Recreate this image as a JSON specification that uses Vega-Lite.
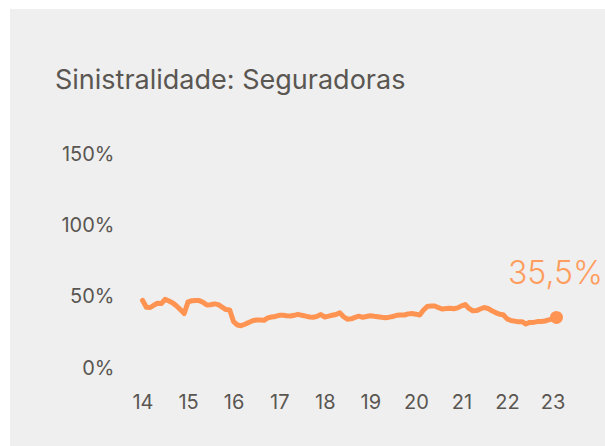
{
  "$schema": "https://vega.github.io/schema/vega-lite/v6.json",
  "width": 595,
  "height": 437,
  "autosize": {"type": "none"},
  "padding": {"left": 10, "top": 9, "right": 0, "bottom": 0},
  "background": "#ffffff",
  "title": {
    "text": "Sinistralidade: Seguradoras",
    "anchor": "start",
    "orient": "top",
    "offset": -86,
    "dx": 45,
    "font": "Inter",
    "fontSize": 27,
    "fontWeight": 400,
    "color": "#5a5652"
  },
  "config": {
    "view": {"stroke": null, "fill": "#efefef"},
    "locale": {"number": {"decimal": ",", "thousands": ".", "grouping": [3], "currency": ["R$", ""]}},
    "axis": {"labelFont": "Inter", "labelFontSize": 20, "labelColor": "#5a5652", "grid": false, "domain": false, "ticks": false, "tickSize": 0, "title": null}
  },
  "data": {"values": [
    {"date": "2014-01-01", "v": 0.475}, {"date": "2014-02-01", "v": 0.426}, {"date": "2014-03-01", "v": 0.424}, {"date": "2014-04-01", "v": 0.44},
    {"date": "2014-05-01", "v": 0.454}, {"date": "2014-06-01", "v": 0.452}, {"date": "2014-07-01", "v": 0.482}, {"date": "2014-08-01", "v": 0.47},
    {"date": "2014-09-01", "v": 0.456}, {"date": "2014-10-01", "v": 0.435}, {"date": "2014-11-01", "v": 0.41}, {"date": "2014-12-01", "v": 0.382},
    {"date": "2015-01-01", "v": 0.464}, {"date": "2015-02-01", "v": 0.472}, {"date": "2015-03-01", "v": 0.473}, {"date": "2015-04-01", "v": 0.473},
    {"date": "2015-05-01", "v": 0.461}, {"date": "2015-06-01", "v": 0.442}, {"date": "2015-07-01", "v": 0.444}, {"date": "2015-08-01", "v": 0.45},
    {"date": "2015-09-01", "v": 0.445}, {"date": "2015-10-01", "v": 0.428}, {"date": "2015-11-01", "v": 0.41}, {"date": "2015-12-01", "v": 0.407},
    {"date": "2016-01-01", "v": 0.325}, {"date": "2016-02-01", "v": 0.302}, {"date": "2016-03-01", "v": 0.297}, {"date": "2016-04-01", "v": 0.307},
    {"date": "2016-05-01", "v": 0.32}, {"date": "2016-06-01", "v": 0.332}, {"date": "2016-07-01", "v": 0.337}, {"date": "2016-08-01", "v": 0.337},
    {"date": "2016-09-01", "v": 0.335}, {"date": "2016-10-01", "v": 0.352}, {"date": "2016-11-01", "v": 0.358}, {"date": "2016-12-01", "v": 0.362},
    {"date": "2017-01-01", "v": 0.37}, {"date": "2017-02-01", "v": 0.37}, {"date": "2017-03-01", "v": 0.367}, {"date": "2017-04-01", "v": 0.365},
    {"date": "2017-05-01", "v": 0.37}, {"date": "2017-06-01", "v": 0.377}, {"date": "2017-07-01", "v": 0.37}, {"date": "2017-08-01", "v": 0.364},
    {"date": "2017-09-01", "v": 0.358}, {"date": "2017-10-01", "v": 0.356}, {"date": "2017-11-01", "v": 0.363}, {"date": "2017-12-01", "v": 0.375},
    {"date": "2018-01-01", "v": 0.358}, {"date": "2018-02-01", "v": 0.364}, {"date": "2018-03-01", "v": 0.37}, {"date": "2018-04-01", "v": 0.376},
    {"date": "2018-05-01", "v": 0.388}, {"date": "2018-06-01", "v": 0.36}, {"date": "2018-07-01", "v": 0.343}, {"date": "2018-08-01", "v": 0.345},
    {"date": "2018-09-01", "v": 0.355}, {"date": "2018-10-01", "v": 0.364}, {"date": "2018-11-01", "v": 0.356}, {"date": "2018-12-01", "v": 0.362},
    {"date": "2019-01-01", "v": 0.367}, {"date": "2019-02-01", "v": 0.363}, {"date": "2019-03-01", "v": 0.36}, {"date": "2019-04-01", "v": 0.356},
    {"date": "2019-05-01", "v": 0.353}, {"date": "2019-06-01", "v": 0.357}, {"date": "2019-07-01", "v": 0.362}, {"date": "2019-08-01", "v": 0.37},
    {"date": "2019-09-01", "v": 0.372}, {"date": "2019-10-01", "v": 0.372}, {"date": "2019-11-01", "v": 0.38}, {"date": "2019-12-01", "v": 0.382},
    {"date": "2020-01-01", "v": 0.378}, {"date": "2020-02-01", "v": 0.372}, {"date": "2020-03-01", "v": 0.405}, {"date": "2020-04-01", "v": 0.432},
    {"date": "2020-05-01", "v": 0.435}, {"date": "2020-06-01", "v": 0.435}, {"date": "2020-07-01", "v": 0.423}, {"date": "2020-08-01", "v": 0.414},
    {"date": "2020-09-01", "v": 0.417}, {"date": "2020-10-01", "v": 0.419}, {"date": "2020-11-01", "v": 0.416}, {"date": "2020-12-01", "v": 0.422},
    {"date": "2021-01-01", "v": 0.436}, {"date": "2021-02-01", "v": 0.445}, {"date": "2021-03-01", "v": 0.418}, {"date": "2021-04-01", "v": 0.402},
    {"date": "2021-05-01", "v": 0.403}, {"date": "2021-06-01", "v": 0.414}, {"date": "2021-07-01", "v": 0.425}, {"date": "2021-08-01", "v": 0.418},
    {"date": "2021-09-01", "v": 0.402}, {"date": "2021-10-01", "v": 0.389}, {"date": "2021-11-01", "v": 0.378}, {"date": "2021-12-01", "v": 0.374},
    {"date": "2022-01-01", "v": 0.345}, {"date": "2022-02-01", "v": 0.333}, {"date": "2022-03-01", "v": 0.329}, {"date": "2022-04-01", "v": 0.325},
    {"date": "2022-05-01", "v": 0.325}, {"date": "2022-06-01", "v": 0.309}, {"date": "2022-07-01", "v": 0.32}, {"date": "2022-08-01", "v": 0.32},
    {"date": "2022-09-01", "v": 0.326}, {"date": "2022-10-01", "v": 0.326}, {"date": "2022-11-01", "v": 0.33}, {"date": "2022-12-01", "v": 0.338},
    {"date": "2023-01-01", "v": 0.345}, {"date": "2023-02-01", "v": 0.355}
  ]},
  "encoding": {
    "x": {
      "field": "date",
      "type": "temporal",
      "scale": {"type": "utc", "domain": ["2011-02-04", "2024-02-25"]},
      "axis": {
        "orient": "bottom",
        "offset": -44,
        "labelPadding": 0,
        "labelBaseline": "middle",
        "format": "%y",
        "labelAlign": "center",
        "values": [
          {"year": 2014, "utc": true}, {"year": 2015, "utc": true}, {"year": 2016, "utc": true}, {"year": 2017, "utc": true}, {"year": 2018, "utc": true},
          {"year": 2019, "utc": true}, {"year": 2020, "utc": true}, {"year": 2021, "utc": true}, {"year": 2022, "utc": true}, {"year": 2023, "utc": true}
        ]
      }
    },
    "y": {
      "field": "v",
      "type": "quantitative",
      "scale": {"domain": [-0.547, 2.519], "nice": false, "zero": false},
      "axis": {"orient": "left", "offset": -104, "labelPadding": 0, "values": [0, 0.5, 1, 1.5], "format": ".0%"}
    }
  },
  "layer": [
    {"mark": {"type": "line", "color": "#ff9452", "strokeWidth": 5, "strokeJoin": "round", "strokeCap": "round"}},
    {
      "transform": [
        {"joinaggregate": [{"op": "max", "field": "date", "as": "maxd"}]},
        {"filter": "time(datum.date) == time(datum.maxd)"}
      ],
      "layer": [
        {"mark": {"type": "point", "filled": true, "opacity": 1, "size": 170, "color": "#ff9452"}},
        {
          "mark": {"type": "text", "font": "Inter", "fontSize": 32, "fontWeight": 300, "color": "#ff9d5e", "align": "center", "baseline": "alphabetic", "dy": -33, "dx": -1},
          "encoding": {"text": {"field": "v", "type": "quantitative", "format": ".1%"}}
        }
      ]
    }
  ]
}
